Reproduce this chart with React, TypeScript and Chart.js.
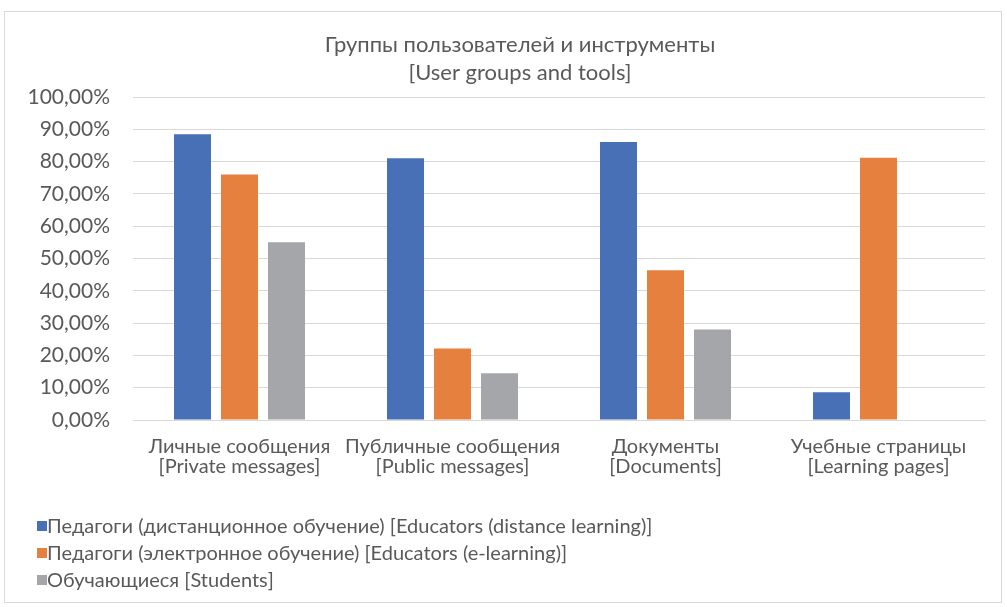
import React, { useEffect, useRef } from "react";
import { Chart, registerables } from "chart.js";

Chart.register(...registerables);

const categories: string[][] = [
  ["Личные сообщения", "[Private messages]"],
  ["Публичные сообщения", "[Public messages]"],
  ["Документы", "[Documents]"],
  ["Учебные страницы", "[Learning pages]"],
];
const seriesNames = [
  "Педагоги (дистанционное обучение) [Educators (distance learning)]",
  "Педагоги (электронное обучение) [Educators (e-learning)]",
  "Обучающиеся [Students]",
];
const educatorsDistance = [0.885, 0.81, 0.861, 0.086];
const educatorsElearning = [0.76, 0.221, 0.464, 0.812];
const students = [0.55, 0.145, 0.28, 0];
const seriesColors = ["#4770B6", "#E6803F", "#A5A6A9"];
const titleLines = ["Группы пользователей и инструменты", "[User groups and tools]"];

const FONT = "Lato";
const TEXT = "#595959";

const shiftTitle = {
  id: "shiftTitle",
  afterLayout(chart: any) {
    const t = chart.titleBlock;
    if (t) t.left = 50;
  },
};

export default function App() {
  const ref = useRef<HTMLCanvasElement | null>(null);
  useEffect(() => {
    if (!ref.current) return;
    const values = [educatorsDistance, educatorsElearning, students];
    const chart = new Chart(ref.current, {
      type: "bar",
      data: {
        labels: categories,
        datasets: values.map((v, i) => ({
          label: seriesNames[i],
          data: v,
          backgroundColor: seriesColors[i],
          borderWidth: 0,
          categoryPercentage: 0.662,
          barPercentage: 0.787,
        })),
      },
      plugins: [shiftTitle],
      options: {
        animation: false,
        responsive: false,
        maintainAspectRatio: false,
        layout: { padding: { left: 0, right: 16, top: 0, bottom: 112 } },
        plugins: {
          legend: { display: false },
          tooltip: { enabled: false },
          title: {
            display: true,
            text: titleLines,
            color: TEXT,
            font: { family: FONT, size: 22, weight: "normal", lineHeight: 28 / 22 },
            padding: { top: 19, bottom: 10 },
          },
        },
        scales: {
          x: {
            grid: { display: false, drawTicks: false },
            border: { display: true, color: "#d9d9d9", width: 1 },
            ticks: {
              color: TEXT,
              font: { family: FONT, size: 20, lineHeight: 1.0 },
              padding: 17,
              maxRotation: 0,
              autoSkip: false,
            },
            afterFit: (s: any) => {
              s.height = 70;
            },
          },
          y: {
            min: 0,
            max: 1,
            grid: { color: "#d9d9d9", drawTicks: false, lineWidth: 1 },
            border: { display: false },
            ticks: {
              stepSize: 0.1,
              color: TEXT,
              padding: 23,
              font: { family: FONT, size: 21 },
              callback: (v: any) => (Number(v) * 100).toFixed(2).replace(".", ",") + "%",
            },
            afterFit: (s: any) => {
              s.width = 128;
            },
          },
        },
      },
    });
    return () => chart.destroy();
  }, []);

  return (
    <div
      style={{
        position: "absolute",
        left: 4,
        top: 11,
        width: 996,
        height: 590,
        border: "1px solid #d9d9d9",
        background: "#fff",
        overflow: "hidden",
      }}
    >
      <canvas ref={ref} width={996} height={590} style={{ display: "block" }} />
      <div
        style={{
          position: "absolute",
          left: 32,
          top: 500,
          fontFamily: FONT,
          fontSize: 20,
          color: TEXT,
          lineHeight: "27px",
        }}
      >
        {seriesNames.map((n, i) => (
          <div key={n} style={{ display: "flex", alignItems: "center", whiteSpace: "nowrap" }}>
            <span
              style={{
                display: "inline-block",
                width: 10,
                height: 10,
                background: seriesColors[i],
                marginRight: 0,
              }}
            />
            <span>{n}</span>
          </div>
        ))}
      </div>
    </div>
  );
}
